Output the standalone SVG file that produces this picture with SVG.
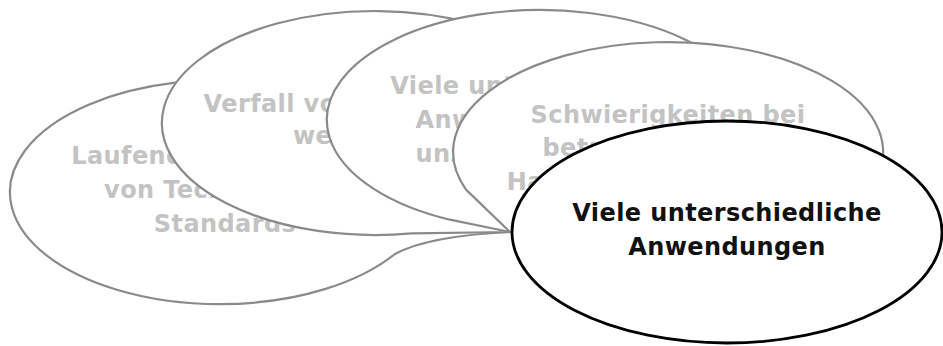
<svg xmlns="http://www.w3.org/2000/svg" width="943" height="346" viewBox="0 0 943 346">
  <style>
    .bubble { fill: #ffffff; stroke: #8a8a8a; stroke-width: 2.2; stroke-linejoin: round; }
    .focus { fill: #ffffff; stroke: #000000; stroke-width: 2.8; }
    text { font-family: "DejaVu Sans", "Verdana", sans-serif; font-weight: bold; font-size: 24px; letter-spacing: 0.4px; text-anchor: middle; }
    .dim { fill: #c3c3c3; }
    .main { fill: #111111; }
  </style>
  <rect width="943" height="346" fill="#ffffff"/>

  <!-- stacked callout bubbles, all pointing at the left tip of the front ellipse -->
  <g id="node-laufende-aenderungen">
    <path class="bubble" d="M395,254 Q428,236 510,232 L426.8,211.4 A210,112 0 1 0 395,254 Z"/>
    <text class="dim" x="225" y="164">Laufende Änderungen</text>
    <text class="dim" x="225" y="198">von Technologien</text>
    <text class="dim" x="225" y="232">Standards</text>
  </g>

  <g id="node-verfall">
    <path class="bubble" d="M411.8,233.3 L510,232 L524.9,202.5 A213,112 0 1 0 411.8,233.3 Z"/>
    <text class="dim" x="377" y="112">Verfall von Datenträgern</text>
    <text class="dim" x="377" y="144">wegen Alter</text>
  </g>

  <g id="node-viele-anwendungen-formate">
    <path class="bubble" d="M450,219.7 L510,232 L532.6,229.9 A213,110 0 1 0 450,219.7 Z"/>
    <text class="dim" x="545" y="94">Viele unterschiedliche</text>
    <text class="dim" x="545" y="128">Anwendungen und</text>
    <text class="dim" x="545" y="162">unzählige Formate</text>
  </g>

  <g id="node-schwierigkeiten">
    <path class="bubble" d="M466,189.6 L510,232 L560.5,247.3 A215,110 0 1 0 466,189.6 Z"/>
    <text class="dim" x="668" y="123">Schwierigkeiten bei</text>
    <text class="dim" x="670" y="156">betagter Software</text>
    <text class="dim" x="672" y="190">Hardware und Software</text>
  </g>

  <g id="node-viele-anwendungen">
    <ellipse class="focus" cx="727" cy="232" rx="215" ry="111"/>
    <text class="main" x="727" y="221">Viele unterschiedliche</text>
    <text class="main" x="727" y="255">Anwendungen</text>
  </g>

  <g id="connectors"/>
</svg>
